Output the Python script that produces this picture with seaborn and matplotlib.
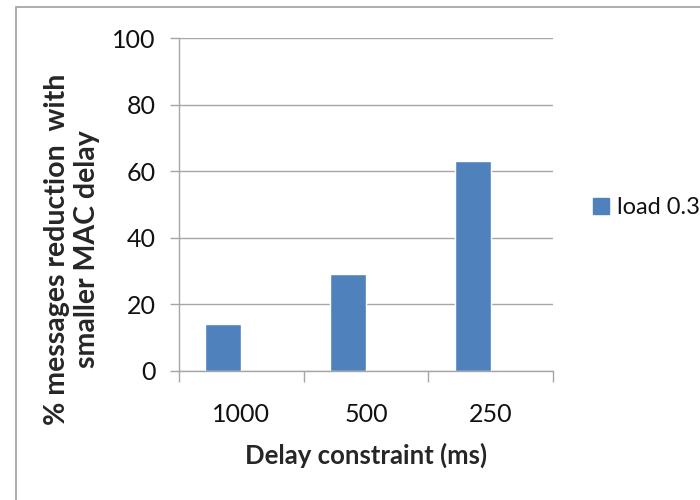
import pandas as pd
import numpy as np
import matplotlib.pyplot as plt
import seaborn as sns
from matplotlib.patches import Rectangle, Patch

# data
delays = ['1000', '500', '250']
reduction = [14, 29, 63]
series = 'load 0.3'
spare = ' '  # empty second series that Excel kept a slot for

sns.set_theme(style="white")
plt.rcParams['font.family'] = ['Lato', 'DejaVu Sans']

df = pd.DataFrame({
    'delay': delays * 2,
    'value': reduction + [np.nan] * len(delays),
    'series': [series] * len(delays) + [spare] * len(delays),
})

fig = plt.figure(figsize=(7, 5), dpi=100)
ax = fig.add_axes([179 / 700, 1 - 371 / 500, (553 - 179) / 700, (371 - 38) / 500])

sns.barplot(data=df, x='delay', y='value', hue='series', order=delays,
            hue_order=[series, spare], palette=['#4F81BD', '#4F81BD'],
            width=0.58, errorbar=None, ax=ax, legend=False, saturation=1)

grid_col = '#a6a6a6'
ax.set_ylim(0, 100)
ax.set_xlim(-0.5, len(delays) - 0.5)
ax.set_yticks(range(0, 101, 20))
ax.yaxis.grid(True, color=grid_col, linewidth=1)
ax.set_axisbelow(True)
for s in ['top', 'right']:
    ax.spines[s].set_visible(False)
for s in ['left', 'bottom']:
    ax.spines[s].set_color(grid_col)
    ax.spines[s].set_linewidth(1)

ax.set_xticks(np.arange(-0.5, len(delays), 1.0), minor=True)
ax.tick_params(axis='x', which='minor', length=8, color=grid_col, width=1, bottom=True)
ax.tick_params(axis='x', which='major', length=0, pad=23, labelsize=18, labelcolor='#111111')
ax.tick_params(axis='y', length=6.5, color=grid_col, width=1, left=True, pad=10.5,
               labelsize=18, labelcolor='#111111')

ax.set_xlabel('Delay constraint (ms)', fontsize=18.5, fontweight='bold', labelpad=12)
ax.set_ylabel('% messages reduction  with\nsmaller MAC delay', fontsize=20.5,
              fontweight='bold', linespacing=1.2)
ax.yaxis.set_label_coords((100 - 179) / 374, (371 - 249) / 333)

fig.legend(handles=[Patch(color='#4F81BD', label=series)], loc='center left',
           bbox_to_anchor=(584 / 700, 1 - 208 / 500), frameon=False, fontsize=17,
           handlelength=0.65, handleheight=0.65, handletextpad=0.35, borderaxespad=0,
           labelcolor='#111111')

fig.add_artist(Rectangle((16 / 700, -0.1), 2, 1.1 - 7 / 500, transform=fig.transFigure,
                         fill=False, edgecolor='#a0a0a0', linewidth=1.2))

fig.savefig('out.png', dpi=100)
